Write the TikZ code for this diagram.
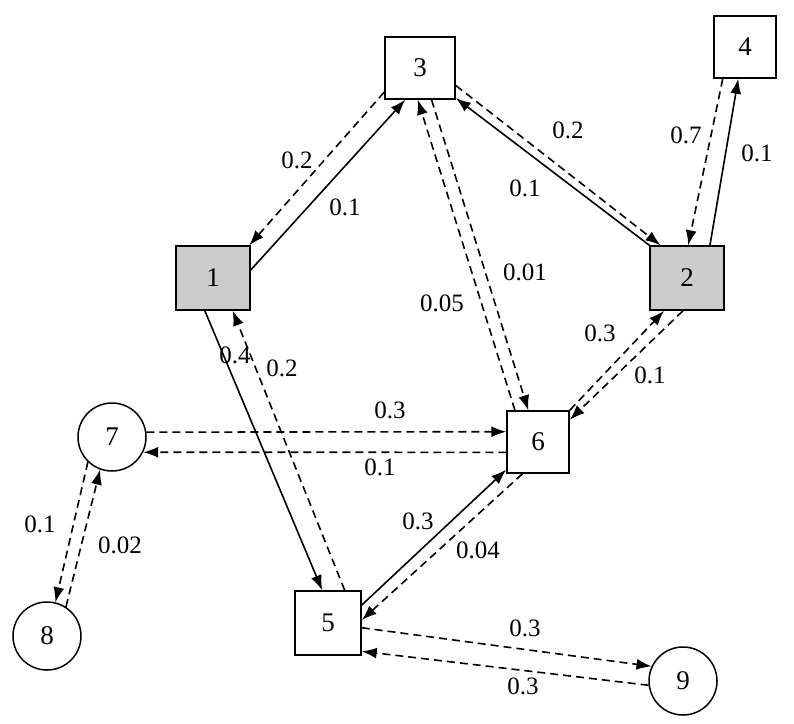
\documentclass[tikz,border=0pt]{standalone}
\usepackage{fontspec}
\setmainfont{Liberation Serif}
\usetikzlibrary{arrows.meta}
\begin{document}
\begin{tikzpicture}[x=1pt,y=-1pt,line width=1.5pt,
  box/.style={draw,line width=1.5pt,minimum width=66pt,minimum height=62pt,font=\fontsize{27}{30}\selectfont,inner sep=0pt},
  gbox/.style={box,fill=black!20,minimum width=74pt,minimum height=64pt},
  circ/.style={draw,line width=1.5pt,circle,minimum size=68pt,font=\fontsize{27}{30}\selectfont,inner sep=0pt},
  e/.style={line width=1.6pt,-{Latex[length=15pt,width=11pt]}},
  d/.style={e,dash pattern=on 8pt off 5pt},
  lab/.style={font=\fontsize{25}{28}\selectfont}]
\useasboundingbox (0,0) rectangle (794,723);
\node[box,minimum width=70pt] (n3) at (420,68) {3};
\node[box,minimum width=62pt] (n4) at (745,47) {4};
\node[gbox] (n1) at (213,278) {1};
\node[gbox] (n2) at (687,278) {2};
\node[box,minimum width=62pt] (n6) at (538,442) {6};
\node[box,minimum height=64pt] (n5) at (328,623) {5};
\node[circ] (n7) at (112,437) {7};
\node[circ] (n8) at (47,636) {8};
\node[circ] (n9) at (683,681) {9};
\draw[e] (n1.12) -- (n3.245);
\draw[d] (n3.214) -- (n1.42);
\draw[e] (n2.139) -- (n3.320);
\draw[d] (n3.334) -- (n2.129);
\draw[e] (n2.55) -- (n4.258);
\draw[d] (n4.235) -- (n2.88);
\draw[d] (n3.290) -- (n6.107);
\draw[d] (n6.126) -- (n3.266);
\draw[d] (n6.45) -- (n2.235);
\draw[d] (n2.263) -- (n6.35);
\draw[e] (n1.256) -- (n5.100);
\draw[d] (n5.63) -- (n1.301);
\draw[d] (n7.8) -- (n6.162);
\draw[d] (n6.198) -- (n7.334);
\draw[d] (n7.226) -- (n8.76);
\draw[d] (n8.57) -- (n7.250);
\draw[e] (n5.28) -- (n6.221);
\draw[d] (n6.244) -- (n5.5);
\draw[d] (n5.352) -- (n9.155);
\draw[d] (n9.187) -- (n5.320);
\node[lab] (l1) at (345,207) {0.1};
\node[lab] (l2) at (297,160) {0.2};
\node[lab] (l3) at (525,188) {0.1};
\node[lab] (l4) at (568,130) {0.2};
\node[lab] (l5) at (757,153) {0.1};
\node[lab] (l6) at (686,135) {0.7};
\node[lab] (l7) at (525,272) {0.01};
\node[lab] (l8) at (442,303) {0.05};
\node[lab] (l9) at (600,333) {0.3};
\node[lab] (l10) at (650,375) {0.1};
\node[lab] (l11) at (235,355) {0.4};
\node[lab] (l12) at (282,368) {0.2};
\node[lab] (l13) at (390,410) {0.3};
\node[lab] (l14) at (380,467) {0.1};
\node[lab] (l15) at (40,524) {0.1};
\node[lab] (l16) at (120,545) {0.02};
\node[lab] (l17) at (418,521) {0.3};
\node[lab] (l18) at (478,550) {0.04};
\node[lab] (l19) at (525,628) {0.3};
\node[lab] (l20) at (523,686) {0.3};
\end{tikzpicture}
\end{document}
